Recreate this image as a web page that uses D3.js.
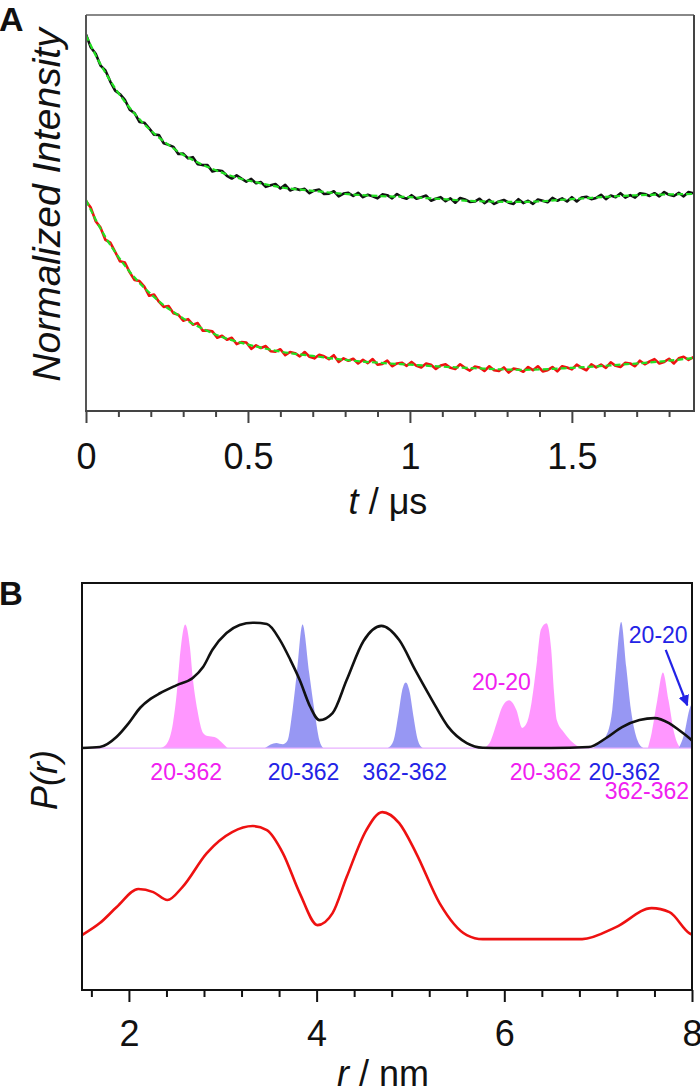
<!DOCTYPE html>
<html><head><meta charset="utf-8">
<script src="https://cdn.jsdelivr.net/npm/d3@7"></script>
<style>body{margin:0;background:#fff} svg{display:block} text{font-family:"Liberation Sans",Arial,sans-serif}</style>
</head><body><svg id="c" width="700" height="1091"></svg>
<script>
// ---------- Panel A data (normalized intensity x1000, sampled every tStep µs) ----------
const tStep = 0.015;
const blackTrace = [951,918,902,872,860,832,809,800,786,761,752,730,728,714,698,697,676,672,667,649,650,638,641,623,621,621,605,608,606,594,587,595,587,579,586,575,578,566,570,573,562,571,557,562,558,561,550,557,559,548,549,555,542,549,551,543,551,540,546,542,537,547,545,537,548,540,536,545,536,540,544,531,536,540,530,537,526,538,534,528,529,536,525,533,523,529,533,526,523,535,525,531,523,534,531,527,538,531,537,529,540,529,539,541,535,538,546,535,544,540,550,539,545,539,550,548,543,550,542,553,546,543,551,542,553,550];
const redTrace = [530,513,479,463,432,425,402,378,375,350,331,328,314,291,294,276,263,265,247,243,228,232,218,222,203,203,201,185,190,180,185,169,174,173,157,166,159,164,151,150,156,141,149,146,138,149,137,133,142,138,131,141,124,133,127,132,120,129,121,131,117,119,127,113,120,122,114,124,114,110,120,117,106,115,118,109,106,118,109,102,112,110,101,113,103,101,110,97,107,105,99,111,103,113,100,103,111,100,113,110,105,117,109,103,118,110,117,109,123,114,111,122,120,113,127,118,125,131,120,124,132,120,133,137,129,136];
const blackFit = [[0,949],[0.03,898],[0.06,854],[0.09,815],[0.12,781],[0.15,751],[0.18,724],[0.21,701],[0.24,681],[0.27,663],[0.3,647],[0.36,622],[0.42,602],[0.48,586],[0.54,575],[0.6,565],[0.7,556],[0.8,548],[0.9,543],[1.0,540],[1.1,535],[1.2,530],[1.35,528],[1.5,535],[1.65,543],[1.8,547],[1.877,548]];
const redFit = [[0,533],[0.03,483],[0.06,439],[0.09,401],[0.12,367],[0.15,337],[0.18,311],[0.21,288],[0.24,267],[0.27,250],[0.3,234],[0.36,208],[0.42,187],[0.48,172],[0.54,160],[0.6,150],[0.7,139],[0.8,129],[0.9,122],[1.0,117],[1.1,112],[1.2,108],[1.35,104],[1.5,109],[1.65,117],[1.8,127],[1.877,134]];
const tMajor = [0,0.5,1,1.5];
const tMinor = [0.1,0.2,0.3,0.4,0.6,0.7,0.8,0.9,1.1,1.2,1.3,1.4,1.6,1.7,1.8];
const tLabels = ["0","0.5","1","1.5"];

// ---------- Panel B data ----------
const prBlack = [[1.5,0],[1.69,0.008],[1.87,0.09],[2.0,0.2],[2.12,0.32],[2.23,0.39],[2.33,0.435],[2.51,0.5],[2.68,0.556],[2.79,0.643],[2.89,0.78],[3.04,0.913],[3.18,0.976],[3.32,0.995],[3.47,0.985],[3.61,0.857],[3.72,0.7],[3.82,0.54],[3.93,0.33],[4.03,0.222],[4.17,0.278],[4.32,0.54],[4.5,0.85],[4.69,0.97],[4.88,0.857],[5.05,0.62],[5.23,0.381],[5.4,0.17],[5.6,0.04],[5.77,0.003],[6.0,0],[6.5,0],[6.9,0.008],[7.085,0.08],[7.255,0.167],[7.44,0.222],[7.6,0.238],[7.755,0.198],[7.86,0.143],[7.97,0.08],[8.0,0.06]];
const prRed = [[1.5,0.032],[1.69,0.127],[1.87,0.254],[2.1,0.397],[2.26,0.373],[2.41,0.31],[2.57,0.413],[2.83,0.683],[3.1,0.849],[3.32,0.897],[3.47,0.865],[3.64,0.683],[3.82,0.365],[4.01,0.111],[4.17,0.206],[4.32,0.492],[4.53,0.865],[4.7,1.008],[4.88,0.92],[5.06,0.683],[5.31,0.286],[5.6,0.032],[5.77,0],[6.83,0],[7.19,0.095],[7.57,0.246],[7.76,0.214],[7.97,0.048],[8.0,0.035]];
const redOffset = 1.516;
const magentaPeaks = [
  [[2.34,0],[2.40,0.03],[2.47,0.2],[2.51,0.44],[2.54,0.7],[2.6,0.98],[2.65,0.8],[2.68,0.56],[2.73,0.3],[2.79,0.12],[2.84,0.095],[2.91,0.087],[2.99,0.045],[3.05,0]],
  [[5.78,0],[5.85,0.05],[5.92,0.2],[5.98,0.33],[6.05,0.38],[6.13,0.3],[6.19,0.16],[6.24,0.2],[6.29,0.36],[6.35,0.7],[6.39,0.94],[6.45,0.99],[6.5,0.78],[6.53,0.44],[6.56,0.22],[6.64,0.12],[6.72,0.05],[6.82,0]],
  [[7.53,0],[7.57,0.12],[7.63,0.38],[7.69,0.6],[7.75,0.38],[7.81,0.12],[7.85,0.03],[7.88,0]]
];
const bluePeaks = [
  [[3.45,0],[3.57,0.04],[3.64,0.03],[3.69,0.06],[3.74,0.28],[3.79,0.6],[3.85,0.98],[3.92,0.6],[3.98,0.28],[4.03,0.06],[4.07,0]],
  [[4.76,0],[4.82,0.06],[4.87,0.26],[4.91,0.45],[4.95,0.52],[4.99,0.45],[5.03,0.26],[5.08,0.06],[5.13,0]],
  [[6.95,0],[7.01,0.04],[7.08,0.09],[7.15,0.3],[7.19,0.64],[7.245,1.0],[7.3,0.64],[7.35,0.3],[7.42,0.06],[7.48,0]],
  [[7.86,0],[7.92,0.12],[7.97,0.3],[8.0,0.36]]
];
const rMajor = [2,4,6,8];
const rMinor = [1.6,2.4,2.8,3.2,3.6,4.4,4.8,5.2,5.6,6.4,6.8,7.2,7.6];
const peakLabels = [
  {text:"20-362", r:2.61, v:-0.254, c:"m"},
  {text:"20-362", r:3.86, v:-0.254, c:"b"},
  {text:"362-362", r:4.94, v:-0.254, c:"b"},
  {text:"20-362", r:6.44, v:-0.254, c:"m"},
  {text:"20-362", r:7.28, v:-0.254, c:"b"},
  {text:"362-362", r:7.52, v:-0.405, c:"m"},
  {text:"20-20", r:5.97, v:0.46, c:"m"},
  {text:"20-20", r:7.64, v:0.833, c:"b"}
];
const arrowPts = [[7.72,0.78],[7.95,0.34]];

const MAG_TXT = "#f020f0", BLU_TXT = "#2323e6";
const svg = d3.select('#c');
const defs = svg.append('defs');
defs.append('marker').attr('id','ah').attr('viewBox','0 0 10 10').attr('refX',9).attr('refY',5)
  .attr('markerWidth',5).attr('markerHeight',5).attr('orient','auto')
  .append('path').attr('d','M0,0 L10,5 L0,10 z').attr('fill',BLU_TXT);

// ================= Panel A =================
const xA = d3.scaleLinear().domain([0,1.877]).range([86,694]);
const yA = d3.scaleLinear().domain([0,1000]).range([411,15]);
defs.append('clipPath').attr('id','clipA').append('rect')
  .attr('x',xA.range()[0]).attr('y',yA.range()[1]).attr('width',xA.range()[1]-xA.range()[0]).attr('height',yA.range()[0]-yA.range()[1]);

const gA = svg.append('g');
const traceLine = d3.line().x((d,i)=>xA(i*tStep)).y(d=>yA(d));
const fitLine = d3.line().x(d=>xA(d[0])).y(d=>yA(d[1])).curve(d3.curveMonotoneX);
const plotA = gA.append('g').attr('clip-path','url(#clipA)');
plotA.append('path').datum(blackTrace).attr('d',traceLine).attr('fill','none').attr('stroke','#111').attr('stroke-width',2.6).attr('stroke-linejoin','round');
plotA.append('path').datum(redTrace).attr('d',traceLine).attr('fill','none').attr('stroke','#f01010').attr('stroke-width',2.6).attr('stroke-linejoin','round');
plotA.append('path').datum(blackFit).attr('d',fitLine).attr('fill','none').attr('stroke','#22e022').attr('stroke-width',2.2).attr('stroke-dasharray','6,3');
plotA.append('path').datum(redFit).attr('d',fitLine).attr('fill','none').attr('stroke','#22e022').attr('stroke-width',2.2).attr('stroke-dasharray','6,3');

// frame
gA.append('line').attr('x1',xA.range()[0]).attr('x2',xA.range()[1]).attr('y1',15).attr('y2',15).attr('stroke','#888').attr('stroke-width',2);
gA.append('line').attr('x1',xA.range()[1]).attr('x2',xA.range()[1]).attr('y1',15).attr('y2',411).attr('stroke','#444').attr('stroke-width',2);
gA.append('line').attr('x1',xA.range()[0]).attr('x2',xA.range()[0]).attr('y1',15).attr('y2',411).attr('stroke','#555').attr('stroke-width',2);
// axis
const axA1 = gA.append('g').attr('transform','translate(0,411)')
  .call(d3.axisBottom(xA).tickValues(tMinor).tickSize(6).tickFormat(''));
const axA2 = gA.append('g').attr('transform','translate(0,411)')
  .call(d3.axisBottom(xA).tickValues(tMajor).tickSize(12).tickPadding(20).tickFormat((d,i)=>tLabels[i]));
[axA1,axA2].forEach(a=>{a.select('.domain').remove(); a.selectAll('line').attr('stroke','#444').attr('stroke-width',2);});
axA2.selectAll('text').attr('font-size',36).attr('fill','#111').style('font-family','"Liberation Sans",Arial,sans-serif');
gA.append('line').attr('x1',xA.range()[0]-1).attr('x2',xA.range()[1]+1).attr('y1',411).attr('y2',411).attr('stroke','#444').attr('stroke-width',2);

// labels
svg.append('text').attr('x',-1).attr('y',31).attr('font-size',34).attr('font-weight','bold').attr('fill','#111').text('A');
svg.append('text').attr('transform','translate(60,205) rotate(-90)').attr('text-anchor','middle')
  .attr('font-size',39).attr('font-style','italic').attr('fill','#111').text('Normalized Intensity');
const xlA = svg.append('text').attr('x',388).attr('y',514).attr('text-anchor','middle').attr('font-size',36).attr('fill','#111');
xlA.append('tspan').attr('font-style','italic').text('t');
xlA.append('tspan').text(' / μs');

// ================= Panel B =================
const xB = d3.scaleLinear().domain([1.5,8]).range([82,692]);
const yB = d3.scaleLinear().domain([-1.92,1.31]).range([990,583]);
defs.append('clipPath').attr('id','clipB').append('rect')
  .attr('x',82).attr('y',583).attr('width',610).attr('height',407);
const gB = svg.append('g');
const plotB = gB.append('g').attr('clip-path','url(#clipB)');
const peakArea = d3.area().x(d=>xB(d[0])).y0(yB(0)).y1(d=>yB(d[1])).curve(d3.curveMonotoneX);
magentaPeaks.forEach(p=>plotB.append('path').datum(p).attr('d',peakArea).attr('fill','#ff66ff').attr('fill-opacity',0.68));
bluePeaks.forEach(p=>plotB.append('path').datum(p).attr('d',peakArea).attr('fill','#6666ee').attr('fill-opacity',0.68));
plotB.append('line').attr('x1',82).attr('x2',692).attr('y1',yB(0)).attr('y2',yB(0)).attr('stroke','#e8b0ff').attr('stroke-width',1.2);
const prLine = d3.line().x(d=>xB(d[0])).y(d=>yB(d[1])).curve(d3.curveMonotoneX);
const prLineRed = d3.line().x(d=>xB(d[0])).y(d=>yB(d[1]-redOffset)).curve(d3.curveMonotoneX);
plotB.append('path').datum(prBlack).attr('d',prLine).attr('fill','none').attr('stroke','#111').attr('stroke-width',2.6);
plotB.append('path').datum(prRed).attr('d',prLineRed).attr('fill','none').attr('stroke','#ee1111').attr('stroke-width',2.6);

// frame
gB.append('rect').attr('x',82).attr('y',583).attr('width',610).attr('height',407).attr('fill','none').attr('stroke','#111').attr('stroke-width',2);
const axB1 = gB.append('g').attr('transform','translate(0,990)')
  .call(d3.axisBottom(xB).tickValues(rMinor).tickSize(7).tickFormat(''));
const axB2 = gB.append('g').attr('transform','translate(0,990)')
  .call(d3.axisBottom(xB).tickValues(rMajor).tickSize(12).tickPadding(18).tickFormat(d3.format('d')));
[axB1,axB2].forEach(a=>{a.select('.domain').remove(); a.selectAll('line').attr('stroke','#111').attr('stroke-width',2);});
axB2.selectAll('text').attr('font-size',36).attr('fill','#111').style('font-family','"Liberation Sans",Arial,sans-serif');

// peak labels
peakLabels.forEach(l=>{
  gB.append('text').attr('x',xB(l.r)).attr('y',yB(l.v)).attr('text-anchor','middle')
    .attr('font-size',23).attr('fill',l.c==='m'?MAG_TXT:BLU_TXT).text(l.text);
});
gB.append('line').attr('x1',xB(arrowPts[0][0])).attr('y1',yB(arrowPts[0][1]))
  .attr('x2',xB(arrowPts[1][0])).attr('y2',yB(arrowPts[1][1]))
  .attr('stroke',BLU_TXT).attr('stroke-width',2.2).attr('marker-end','url(#ah)');

svg.append('text').attr('x',-1).attr('y',605).attr('font-size',33).attr('font-weight','bold').attr('fill','#111').text('B');
svg.append('text').attr('transform','translate(57,780) rotate(-90)').attr('text-anchor','middle')
  .attr('font-size',36).attr('font-style','italic').attr('fill','#111').text('P(r)');
const xlB = svg.append('text').attr('x',383).attr('y',1086).attr('text-anchor','middle').attr('font-size',36).attr('fill','#111');
xlB.append('tspan').attr('font-style','italic').text('r');
xlB.append('tspan').text(' / nm');
</script></body></html>
